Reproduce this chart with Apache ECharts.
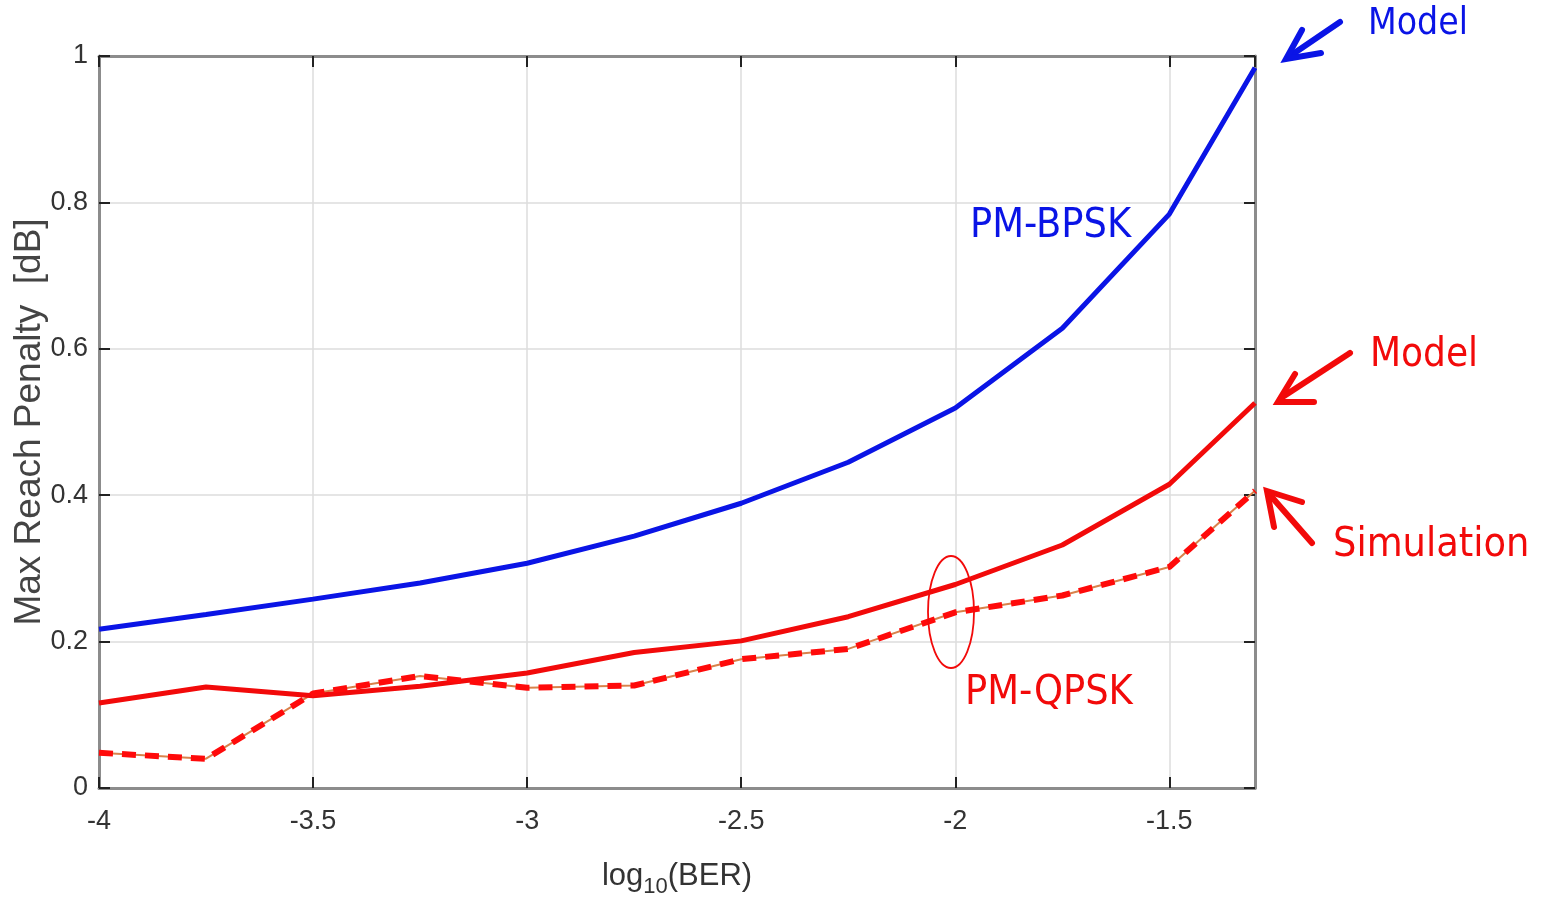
<!DOCTYPE html>
<html>
<head>
<meta charset="utf-8">
<script src="https://cdn.jsdelivr.net/npm/echarts@6/dist/echarts.min.js"></script>
<style>html,body{margin:0;padding:0;background:#fff}#c{width:1550px;height:906px}</style>
</head>
<body>
<div id="c"></div>
<script>
const logBER = [-4, -3.75, -3.5, -3.25, -3, -2.75, -2.5, -2.25, -2, -1.75, -1.5, -1.3];
const bpskModel = [0.217, 0.237, 0.258, 0.280, 0.307, 0.344, 0.389, 0.445, 0.519, 0.628, 0.784, 0.984];
const qpskModel = [0.116, 0.138, 0.126, 0.139, 0.157, 0.185, 0.201, 0.234, 0.278, 0.332, 0.415, 0.526];
const qpskSim   = [0.048, 0.040, 0.129, 0.153, 0.137, 0.140, 0.176, 0.190, 0.240, 0.263, 0.302, 0.406];
const xTicks = [-4, -3.5, -3, -2.5, -2, -1.5];
const yTicks = [0, 0.2, 0.4, 0.6, 0.8, 1];

const pairs = (ys) => logBER.map((x, i) => [x, ys[i]]);
const txtFont = '"DejaVu Sans Condensed", "DejaVu Sans", sans-serif';
const axFont = '"Liberation Sans Narrow", "Liberation Sans", Arial, sans-serif';
const nameFont = '"Liberation Sans", Arial, sans-serif';

const chart = echarts.init(document.getElementById('c'), null, {renderer: 'canvas'});
const axisCommon = {
  axisLine: {show: true, onZero: false, lineStyle: {color: '#8c8c8c', width: 3}},
  axisTick: {show: true, inside: true, length: 11, lineStyle: {color: '#222', width: 2}},
  splitLine: {show: false}
};
chart.setOption({
  animation: false,
  backgroundColor: '#fff',
  grid: {left: 99, right: 295, top: 56, bottom: 118, containLabel: false, outerBoundsMode: 'none'},
  xAxis: [
    Object.assign({}, axisCommon, {
      type: 'value', min: -4, max: -1.3, interval: 0.5, position: 'bottom',
      splitLine: {show: true, lineStyle: {color: '#dcdcdc', width: 1.5}},
      axisLabel: {
        color: '#333', fontSize: 27, fontFamily: axFont, margin: 20,
        showMaxLabel: false,
        formatter: (v) => xTicks.some(t => Math.abs(t - v) < 1e-6) ? String(v) : ''
      },
      name: '{a|log}{b|10}{a|(BER)}', nameLocation: 'middle', nameGap: 66,
      nameTextStyle: {
        rich: {
          a: {fontSize: 31, color: '#333', fontFamily: axFont},
          b: {fontSize: 22, color: '#333', fontFamily: axFont, verticalAlign: 'bottom', padding: [22, 0, 0, 0]}
        }
      }
    }),
    Object.assign({}, axisCommon, {
      type: 'value', min: -4, max: -1.3, interval: 0.5, position: 'top',
      axisLabel: {show: false}
    })
  ],
  yAxis: [
    Object.assign({}, axisCommon, {
      type: 'value', min: 0, max: 1, interval: 0.2, position: 'left',
      splitLine: {show: true, lineStyle: {color: '#dcdcdc', width: 1.5}},
      axisLabel: {
        color: '#333', fontSize: 27, fontFamily: axFont, margin: 11,
        formatter: (v) => yTicks.some(t => Math.abs(t - v) < 1e-6) ? String(Math.round(v * 10) / 10) : ''
      },
      name: 'Max Reach Penalty  [dB]', nameLocation: 'middle', nameGap: 51, nameRotate: 90,
      nameMoveOverlap: false,
      nameTextStyle: {fontSize: 37, color: '#444', fontFamily: nameFont}
    }),
    Object.assign({}, axisCommon, {
      type: 'value', min: 0, max: 1, interval: 0.2, position: 'right',
      axisLabel: {show: false}
    })
  ],
  series: [
    {type: 'line', name: 'PM-BPSK Model', data: pairs(bpskModel), symbol: 'none',
     lineStyle: {color: '#0a14e6', width: 5}, z: 5},
    {type: 'line', name: 'PM-QPSK Model', data: pairs(qpskModel), symbol: 'none',
     lineStyle: {color: '#f20a0a', width: 5}, z: 5},
    {type: 'line', name: 'PM-QPSK Simulation (thin)', data: pairs(qpskSim), symbol: 'none',
     lineStyle: {color: '#d9824b', width: 2}, z: 4},
    {type: 'line', name: 'PM-QPSK Simulation', data: pairs(qpskSim), symbol: 'none',
     lineStyle: {color: '#ff0a0a', width: 6, type: [14, 9]}, z: 6}
  ],
  graphic: [
    {type: 'text', left: 970, top: 206, style: {text: 'PM-BPSK', fill: '#0a14e6', font: '41px ' + txtFont}},
    {type: 'text', left: 965, top: 673, style: {text: 'PM-QPSK', fill: '#f20a0a', font: '41px ' + txtFont}},
    {type: 'text', left: 1368, top: 6, style: {text: 'Model', fill: '#0a14e6', font: '37px ' + txtFont}},
    {type: 'text', left: 1370, top: 336, style: {text: 'Model', fill: '#f20a0a', font: '40px ' + txtFont}},
    {type: 'text', left: 1333, top: 525, style: {text: 'Simulation', fill: '#f20a0a', font: '41px ' + txtFont}},
    {type: 'ellipse', shape: {cx: 951, cy: 612, rx: 23, ry: 56}, style: {fill: 'none', stroke: '#f20a0a', lineWidth: 1.8}, z: 10},
    {type: 'polyline', shape: {points: [[1340, 22], [1290, 56]]}, style: {stroke: '#0a14e6', lineWidth: 6, lineCap: 'round', fill: 'none'}, z: 10},
    {type: 'polyline', shape: {points: [[1302, 30], [1286, 59], [1321, 53]]}, style: {stroke: '#0a14e6', lineWidth: 6, lineCap: 'round', lineJoin: 'miter', fill: 'none'}, z: 10},
    {type: 'polyline', shape: {points: [[1350, 353], [1281, 398]]}, style: {stroke: '#f20a0a', lineWidth: 6, lineCap: 'round', fill: 'none'}, z: 10},
    {type: 'polyline', shape: {points: [[1295, 374], [1278, 402], [1314, 402]]}, style: {stroke: '#f20a0a', lineWidth: 6, lineCap: 'round', lineJoin: 'miter', fill: 'none'}, z: 10},
    {type: 'polyline', shape: {points: [[1312, 543], [1270, 495]]}, style: {stroke: '#f20a0a', lineWidth: 6, lineCap: 'round', fill: 'none'}, z: 10},
    {type: 'polyline', shape: {points: [[1274, 527], [1267, 491], [1302, 502]]}, style: {stroke: '#f20a0a', lineWidth: 6, lineCap: 'round', lineJoin: 'miter', fill: 'none'}, z: 10}
  ]
});
</script>
</body>
</html>
